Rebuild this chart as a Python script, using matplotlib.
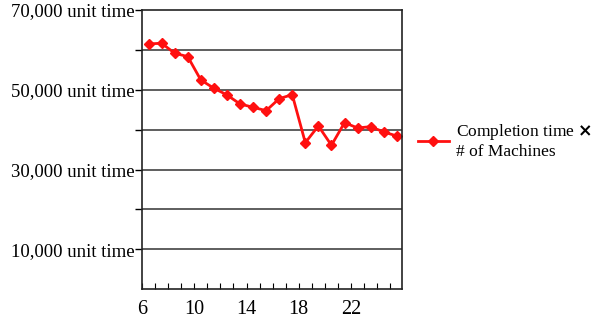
import matplotlib
matplotlib.use("Agg")
import matplotlib.pyplot as plt
import numpy as np
from matplotlib.ticker import FixedLocator, FixedFormatter

machines = list(range(6, 26))
completion = [61480, 61650, 59150, 58300, 52450, 50380, 48700, 46440, 45610, 44760,
              47770, 48770, 36740, 40930, 36090, 41750, 40430, 40750, 39420, 38420]
x_labels = ["6", "10", "14", "18", "22"]
y_ticks = [10000, 20000, 30000, 40000, 50000, 60000, 70000]
y_labeled = [10000, 30000, 50000, 70000]

plt.rcParams['font.family'] = ['Liberation Serif', 'DejaVu Serif']

fig = plt.figure(figsize=(6.1, 3.2), dpi=100)
ax = fig.add_axes([0.2328, 0.0959, 0.659 - 0.2328, 0.969 - 0.0959])

xpos = np.arange(len(machines))
ax.plot(xpos, completion, color='#ff1010', lw=2, marker='D', ms=5.5,
        label='Completion time $\\mathbf{\\times}$\n# of Machines')

ax.set_xlim(-0.5, len(machines) - 0.6)
ax.set_ylim(0, 70000)

# horizontal grid
for yv in y_ticks[:-1]:
    ax.axhline(yv, color='#333333', lw=1.1, zorder=0)

ax.yaxis.set_major_locator(FixedLocator(y_ticks))
ax.yaxis.set_major_formatter(FixedFormatter(
    [f"{v:,} unit time" if v in y_labeled else "" for v in y_ticks]))
ax.tick_params(axis='y', direction='out', length=5, width=1, labelsize=13.5, pad=0.5)

# x: labels at category boundaries, minor ticks at every boundary
bounds = np.arange(len(machines) + 1) - 0.5
major_idx = [machines.index(int(l)) for l in x_labels]
ax.xaxis.set_major_locator(FixedLocator([i - 0.5 for i in major_idx]))
ax.xaxis.set_major_formatter(FixedFormatter(x_labels))
ax.xaxis.set_minor_locator(FixedLocator(bounds))
ax.xaxis.set_tick_params(which='major', direction='in', length=4, width=0.8,
                         labelsize=14.5, pad=8)
ax.xaxis.set_tick_params(which='minor', direction='in', length=4, width=0.8)

for s in ax.spines.values():
    s.set_color('#222222')
    s.set_linewidth(1.2)

leg = ax.legend(loc='center left', bbox_to_anchor=(1.0, 0.53), frameon=False,
                fontsize=12.5, handlelength=1.8, handletextpad=0.4)

fig.savefig('out.png', dpi=100)
